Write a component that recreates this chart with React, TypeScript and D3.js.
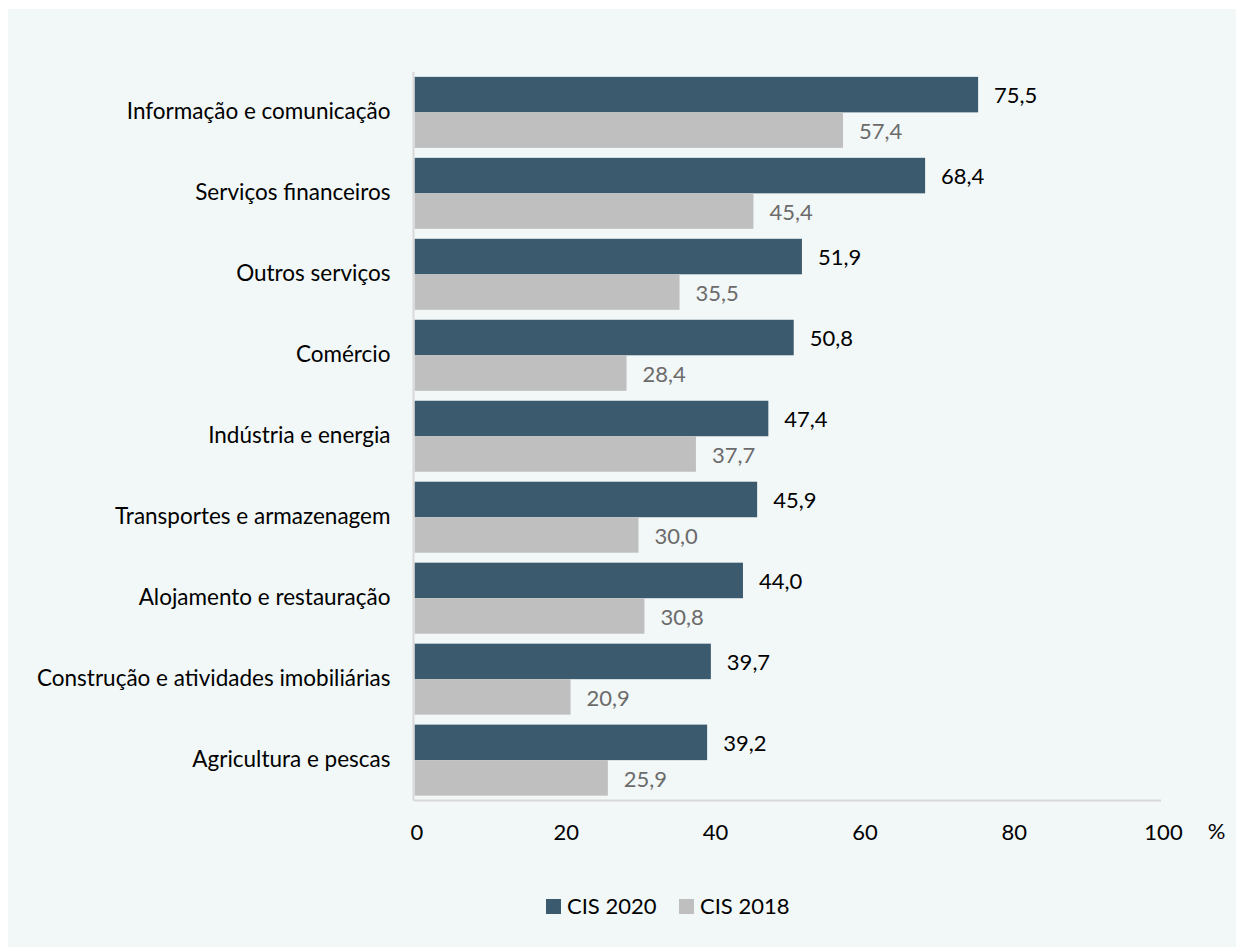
import React from "react";
import * as d3 from "d3";

const categories = [
  "Informação e comunicação",
  "Serviços financeiros",
  "Outros serviços",
  "Comércio",
  "Indústria e energia",
  "Transportes e armazenagem",
  "Alojamento e restauração",
  "Construção e atividades imobiliárias",
  "Agricultura e pescas",
];
const cis2020 = [75.5, 68.4, 51.9, 50.8, 47.4, 45.9, 44.0, 39.7, 39.2];
const cis2018 = [57.4, 45.4, 35.5, 28.4, 37.7, 30.0, 30.8, 20.9, 25.9];
const xTicks = [0, 20, 40, 60, 80, 100];
const seriesNames = ["CIS 2020", "CIS 2018"];

const W = 1240;
const H = 950;
const OX = 8; // page offset
const FONT = "Lato, 'Open Sans', sans-serif";
const FS = 22;
const FSC = 22.5;
const DARK = "#3b5a6d";
const GRAY = "#bfbfbf";

export default function App() {
  const x = d3.scaleLinear().domain([0, 100]).range([414.5 - OX, 1161 - OX]);
  const y = d3
    .scaleBand<string>()
    .domain(categories)
    .range([72 - OX, 800.5 - OX])
    .paddingInner(0.123)
    .paddingOuter(0.06);
  const bh = y.bandwidth() / 2;
  const fmt = (v: number) => v.toFixed(1).replace(".", ",");
  const axisY = 800.5 - OX;
  const x0 = x(0);

  return (
    <svg
      width={W}
      height={H}
      style={{ display: "block", fontFamily: FONT, position: "fixed", left: OX, top: OX }}
    >
      <rect x={0} y={1} width={W} height={H} fill="#f2f7f7" />
      {categories.map((c, i) => {
        const y0 = y(c)!;
        return (
          <g key={c}>
            <rect x={x0} y={y0} width={x(cis2020[i]) - x0} height={bh} fill={DARK} />
            <rect x={x0} y={y0 + bh} width={x(cis2018[i]) - x0} height={bh} fill={GRAY} />
            <text x={x(cis2020[i]) + 16} y={y0 + bh / 2 + 1} dy="0.35em" fontSize={FS} fill="#000">
              {fmt(cis2020[i])}
            </text>
            <text x={x(cis2018[i]) + 16} y={y0 + bh * 1.5 + 1} dy="0.35em" fontSize={FS} fill="#6b6b6b">
              {fmt(cis2018[i])}
            </text>
            <text x={390.5 - OX} y={y0 + bh - 1} dy="0.35em" fontSize={FSC} textAnchor="end" fill="#000">
              {c}
            </text>
          </g>
        );
      })}
      <line x1={x0 - 1} x2={x0 - 1} y1={72 - OX} y2={axisY} stroke="#d9d9d9" strokeWidth={2} />
      <line x1={x0 - 1} x2={x(100)} y1={axisY} y2={axisY} stroke="#d9d9d9" strokeWidth={2} />
      {xTicks.map((t) => (
        <text key={t} x={x(t) + 2.5} y={832.5 - OX} dy="0.35em" fontSize={FS} textAnchor="middle" fill="#000">
          {t}
        </text>
      ))}
      <text x={1216.5 - OX} y={831 - OX} dy="0.35em" fontSize={FS} textAnchor="middle" fill="#000">
        %
      </text>
      <g transform={`translate(0, ${906.5 - OX})`}>
        <rect x={546 - OX} y={-7.5} width={15} height={15} fill={DARK} />
        <text x={567 - OX} y={0} dy="0.35em" fontSize={FS} fill="#000">
          {seriesNames[0]}
        </text>
        <rect x={679 - OX} y={-7.5} width={15} height={15} fill={GRAY} />
        <text x={700 - OX} y={0} dy="0.35em" fontSize={FS} fill="#000">
          {seriesNames[1]}
        </text>
      </g>
    </svg>
  );
}
